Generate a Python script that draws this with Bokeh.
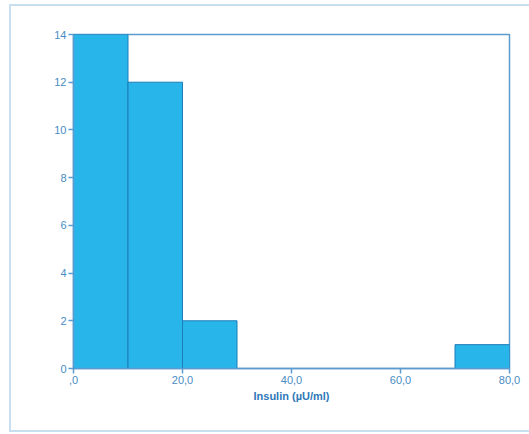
from bokeh.plotting import figure
from bokeh.models import Range1d, FixedTicker, InlineStyleSheet
from bokeh.embed import file_html
from bokeh.resources import INLINE

bin_left = [0, 10, 20, 30, 40, 50, 60, 70]
bin_right = [10, 20, 30, 40, 50, 60, 70, 80]
counts = [14, 12, 2, 0, 0, 0, 0, 1]
x_ticks = [0, 20, 40, 60, 80]
x_tick_labels = [",0", "20,0", "40,0", "60,0", "80,0"]
y_ticks = [0, 2, 4, 6, 8, 10, 12, 14]
x_label = "Insulin (µU/ml)"

lbl = "#4a8cc4"
axis_col = "#5b9bd0"

p = figure(width=529, height=434, output_backend="svg", toolbar_location=None,
           x_range=Range1d(0, 80), y_range=Range1d(0, 14),
           min_border_left=73, min_border_right=20, min_border_top=34, min_border_bottom=66)
p.grid.visible = False
p.outline_line_color = axis_col
p.outline_line_width = 1.5

hl = [l for l, c in zip(bin_left, counts) if c > 0]
hr = [r for r, c in zip(bin_right, counts) if c > 0]
hc = [c for c in counts if c > 0]
p.quad(left=hl, right=hr, bottom=0, top=hc, fill_color="#27b5ea", line_color="#1d7db8", line_width=1)

p.xaxis.ticker = FixedTicker(ticks=x_ticks)
p.xaxis.major_label_overrides = {t: s for t, s in zip(x_ticks, x_tick_labels)}
p.yaxis.ticker = FixedTicker(ticks=y_ticks)
for ax in (p.xaxis, p.yaxis):
    ax.axis_line_color = axis_col
    ax.axis_line_width = 1.5
    ax.major_tick_line_color = axis_col
    ax.major_tick_line_width = 1.5
    ax.major_tick_out = 5
    ax.major_tick_in = 0
    ax.minor_tick_line_color = None
    ax.major_label_text_color = lbl
    ax.major_label_text_font = "Liberation Sans"
    ax.major_label_text_font_size = "11px"
    ax.major_label_standoff = 2
p.xaxis.axis_label = x_label
p.xaxis.axis_label_text_font = "Liberation Sans"
p.xaxis.axis_label_text_font_style = "bold"
p.xaxis.axis_label_text_font_size = "11px"
p.xaxis.axis_label_text_color = "#2f78b8"
p.xaxis.axis_label_standoff = 3

p.stylesheets = [InlineStyleSheet(css="""
:host { position: relative; overflow: hidden; }
:host::after {
  content: ''; position: absolute; left: 9px; top: 4px; right: -20px; bottom: 2px;
  border-style: solid; border-color: #c8dff0; border-width: 2px 0 2px 2px;
  pointer-events: none;
}
""")]

open("out.html", "w").write(file_html(p, INLINE))
